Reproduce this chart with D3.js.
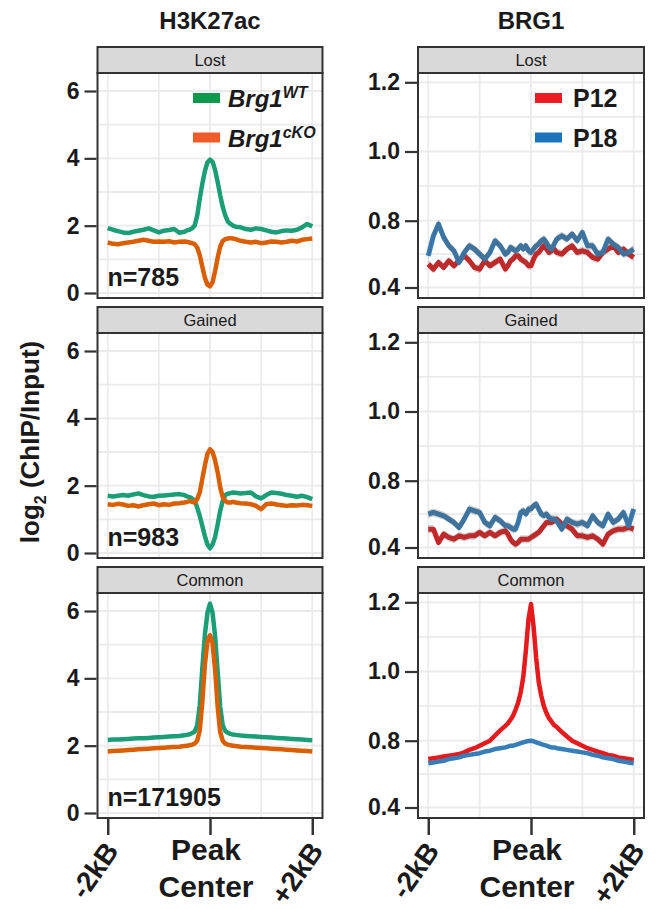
<!DOCTYPE html>
<html>
<head>
<meta charset="utf-8">
<script src="https://cdn.jsdelivr.net/npm/d3@7"></script>
<style>
body { margin: 0; background: #fff; }
text { font-family: "Liberation Sans", Arial, Helvetica, sans-serif; fill: #1a1a1a; }
</style>
</head>
<body>
<div id="chart"></div>
<script>
// distance from peak center (bp); 100bp steps on the flanks, 50bp near the center
var positions = [-2000,-1900,-1800,-1700,-1600,-1500,-1400,-1300,-1200,-1100,-1000,-900,-800,-700,-600,-500,
	-450,-400,-350,-300,-250,-200,-150,-100,-50,0,50,100,150,200,250,300,350,400,450,
	500,600,700,800,900,1000,1100,1200,1300,1400,1500,1600,1700,1800,1900,2000];

var facets = ["Lost", "Gained", "Common"];
var peakCounts = ["n=785", "n=983", "n=171905"];

// H3K27ac, log2(ChIP/Input)
var h3LostWT = [1.93,1.88,1.84,1.80,1.78,1.82,1.85,1.88,1.92,1.86,1.80,1.85,1.87,1.90,1.79,1.82,
	1.86,1.88,1.92,2.00,2.30,2.80,3.25,3.62,3.88,3.96,3.90,3.65,3.30,2.90,2.55,2.30,2.12,2.05,2.00,
	1.97,1.95,1.90,1.88,1.92,1.90,1.86,1.82,1.80,1.84,1.86,1.85,1.88,1.95,2.05,1.98];
var h3LostKO = [1.50,1.46,1.45,1.48,1.50,1.52,1.55,1.58,1.55,1.52,1.53,1.52,1.54,1.50,1.52,1.53,
	1.52,1.50,1.48,1.45,1.35,1.12,0.78,0.45,0.25,0.20,0.32,0.65,1.05,1.38,1.55,1.60,1.62,1.63,1.62,
	1.60,1.55,1.52,1.50,1.52,1.48,1.50,1.53,1.52,1.50,1.52,1.55,1.53,1.58,1.60,1.62];
var h3GainedWT = [1.70,1.68,1.70,1.72,1.70,1.74,1.77,1.72,1.68,1.67,1.70,1.71,1.72,1.74,1.75,1.72,
	1.68,1.66,1.62,1.55,1.35,1.10,0.80,0.50,0.25,0.14,0.25,0.48,0.85,1.25,1.55,1.72,1.76,1.78,1.80,
	1.79,1.77,1.78,1.80,1.68,1.62,1.72,1.80,1.78,1.76,1.72,1.70,1.67,1.70,1.66,1.60];
var h3GainedKO = [1.45,1.43,1.46,1.44,1.40,1.42,1.38,1.42,1.45,1.47,1.42,1.45,1.43,1.47,1.48,1.50,
	1.52,1.54,1.52,1.50,1.60,1.80,2.20,2.60,2.95,3.08,3.00,2.75,2.40,1.95,1.65,1.55,1.50,1.50,1.52,
	1.50,1.48,1.47,1.45,1.40,1.30,1.45,1.47,1.44,1.42,1.40,1.42,1.41,1.43,1.42,1.40];
var h3CommonWT = [2.17,2.18,2.18,2.19,2.20,2.21,2.22,2.22,2.23,2.24,2.25,2.26,2.27,2.28,2.29,2.31,
	2.32,2.34,2.37,2.42,2.60,3.20,4.30,5.30,5.95,6.22,5.95,5.25,4.20,3.15,2.60,2.43,2.38,2.35,2.33,
	2.32,2.30,2.29,2.28,2.27,2.26,2.25,2.24,2.23,2.22,2.21,2.20,2.19,2.18,2.17,2.16];
var h3CommonKO = [1.83,1.84,1.85,1.86,1.87,1.88,1.89,1.90,1.91,1.92,1.93,1.94,1.95,1.96,1.97,1.99,
	2.00,2.01,2.03,2.06,2.15,2.45,3.30,4.40,5.10,5.28,5.05,4.25,3.15,2.40,2.14,2.06,2.03,2.01,2.00,
	1.99,1.97,1.96,1.95,1.94,1.93,1.92,1.91,1.90,1.89,1.88,1.87,1.86,1.85,1.84,1.83];

// BRG1, log2(ChIP/Input)
var brgLostP12 = [0.54,0.51,0.55,0.52,0.56,0.53,0.56,0.59,0.56,0.52,0.51,0.56,0.53,0.55,0.57,0.51,
	0.53,0.56,0.57,0.59,0.59,0.57,0.56,0.55,0.53,0.53,0.57,0.60,0.61,0.63,0.65,0.63,0.61,0.62,0.63,
	0.61,0.60,0.63,0.65,0.61,0.62,0.61,0.58,0.57,0.61,0.63,0.65,0.61,0.63,0.60,0.58];
var brgLostP18 = [0.59,0.71,0.78,0.70,0.65,0.62,0.55,0.61,0.65,0.63,0.60,0.57,0.61,0.68,0.65,0.60,
	0.61,0.64,0.63,0.62,0.63,0.65,0.63,0.65,0.62,0.61,0.63,0.65,0.66,0.68,0.69,0.67,0.64,0.63,0.66,
	0.69,0.71,0.69,0.72,0.68,0.73,0.65,0.65,0.60,0.61,0.69,0.66,0.64,0.60,0.61,0.63];
var brgGainedP12 = [0.51,0.51,0.43,0.48,0.46,0.45,0.47,0.46,0.47,0.47,0.49,0.47,0.49,0.47,0.49,0.50,
	0.48,0.45,0.43,0.42,0.43,0.45,0.45,0.45,0.45,0.46,0.47,0.48,0.49,0.51,0.53,0.55,0.55,0.55,0.56,
	0.57,0.54,0.53,0.51,0.47,0.47,0.46,0.47,0.45,0.42,0.48,0.50,0.51,0.51,0.52,0.51];
var brgGainedP18 = [0.60,0.61,0.60,0.59,0.57,0.55,0.52,0.57,0.63,0.62,0.61,0.55,0.53,0.58,0.56,0.53,
	0.53,0.52,0.51,0.51,0.55,0.61,0.62,0.60,0.63,0.63,0.65,0.66,0.63,0.60,0.59,0.60,0.58,0.57,0.57,
	0.56,0.51,0.57,0.55,0.54,0.55,0.53,0.59,0.55,0.53,0.60,0.55,0.57,0.61,0.53,0.63];
var brgCommonP12 = [0.690,0.695,0.700,0.705,0.710,0.715,0.720,0.730,0.745,0.755,0.770,0.785,0.800,0.815,0.830,0.843,
	0.850,0.860,0.872,0.890,0.910,0.940,0.985,1.060,1.150,1.195,1.130,1.040,0.970,0.930,0.900,0.880,0.865,0.855,0.845,
	0.840,0.825,0.812,0.800,0.785,0.770,0.755,0.745,0.735,0.725,0.715,0.710,0.700,0.695,0.690,0.685];
var brgCommonP18 = [0.665,0.670,0.675,0.680,0.690,0.695,0.700,0.710,0.715,0.720,0.725,0.735,0.740,0.750,0.755,0.760,
	0.765,0.770,0.770,0.775,0.780,0.785,0.790,0.795,0.798,0.800,0.797,0.790,0.785,0.780,0.775,0.770,0.765,0.760,0.760,
	0.755,0.750,0.745,0.740,0.735,0.730,0.725,0.715,0.710,0.700,0.695,0.690,0.680,0.675,0.670,0.665];

// axis ticks
var h3Ticks = [0, 2, 4, 6];
var h3Minor = [1, 3, 5];
var brgTicks = [0.4, 0.8, 1.0, 1.2];
var brgMinor = [0.6, 0.9, 1.1];
var xTicks = [-2000, 0, 2000];
var xMinor = [-1000, 1000];
var xTickLabels = ["-2kB", "Peak\nCenter", "+2kB"];

var h3Series = [[h3LostWT, h3LostKO], [h3GainedWT, h3GainedKO], [h3CommonWT, h3CommonKO]];
var brgSeries = [[brgLostP12, brgLostP18], [brgGainedP12, brgGainedP18], [brgCommonP12, brgCommonP18]];

var h3Colors = ["#1b9e77", "#d95f02"];
var h3KeyColors = ["#0b9a4c", "#f15a29"];
var brgColors = ["#e41a1c", "#377eb8"];
var brgKeyColors = ["#ed1c24", "#1c75bc"];

var svg = d3.select("#chart")
	.append("svg")
	.attr("width", 664)
	.attr("height", 909);

var stripTop = [47, 307, 567];
var stripH = 26;
var panelH = 225;

function drawPanel(col, row) {
	var left = col == 0;
	var x0 = left ? 97.5 : 418, x1 = left ? 322.5 : 644;
	var top = stripTop[row] + stripH;
	var bottom = top + panelH;
	var g = svg.append("g");

	var x = d3.scaleLinear().domain([-2200, 2200]).range([x0, x1]);
	var y;
	if (left) y = d3.scaleLinear().domain([0, 6]).range([top + 220, top + 18]);
	// the BRG1 axis is spaced unevenly (0.4 sits one step below 0.8)
	else y = d3.scaleLinear().domain([0.4, 0.8, 1.2]).range([top + 214.5, top + 147.7, top + 9.3]);

	var ticks = left ? h3Ticks : brgTicks;
	var minor = left ? h3Minor : brgMinor;

	// grid
	g.selectAll(".hgrid")
		.data(ticks.concat(minor))
		.enter().append("line")
		.attr("x1", x0).attr("x2", x1)
		.attr("y1", function(d) { return y(d); })
		.attr("y2", function(d) { return y(d); })
		.style("stroke", "#ebebeb")
		.style("stroke-width", 1.8);
	g.selectAll(".vgrid")
		.data(xTicks.concat(xMinor))
		.enter().append("line")
		.attr("y1", top).attr("y2", bottom)
		.attr("x1", function(d) { return x(d); })
		.attr("x2", function(d) { return x(d); })
		.style("stroke", "#ebebeb")
		.style("stroke-width", 1.8);

	var line = d3.line()
		.x(function(d, i) { return x(positions[i]); })
		.y(function(d) { return y(d); });

	var series = left ? h3Series[row] : brgSeries[row];
	var colors = left ? h3Colors : brgColors;
	var noisy = !left && row < 2;

	series.forEach(function(s, k) {
		g.append("path")
			.attr("d", line(s))
			.style("fill", "none")
			.style("stroke", colors[k])
			.style("stroke-width", noisy ? 5 : 4.5)
			.style("stroke-linejoin", "round");
		// standard error band over the BRG1 profiles
		if (noisy) {
			var band = d3.area()
				.x(function(d, i) { return x(positions[i]); })
				.y0(function(d) { return y(d - 0.024); })
				.y1(function(d) { return y(d + 0.024); });
			g.append("path")
				.attr("d", band(s))
				.style("fill", "#555")
				.style("opacity", 0.28);
		}
	});

	// border
	g.append("rect")
		.attr("x", x0).attr("y", top)
		.attr("width", x1 - x0).attr("height", panelH)
		.style("fill", "none")
		.style("stroke", "#333")
		.style("stroke-width", 2);

	// strip
	g.append("rect")
		.attr("x", x0).attr("y", stripTop[row])
		.attr("width", x1 - x0).attr("height", stripH)
		.style("fill", "#d9d9d9")
		.style("stroke", "#333")
		.style("stroke-width", 2);
	g.append("text")
		.text(facets[row])
		.attr("x", (x0 + x1) / 2)
		.attr("y", stripTop[row] + 19)
		.attr("text-anchor", "middle")
		.style("font-size", "16.5px");

	// y axis
	var yAxis = d3.axisLeft(y)
		.tickValues(ticks)
		.tickSize(12)
		.tickPadding(5)
		.tickFormat(left ? d3.format("d") : d3.format(".1f"));
	var ya = g.append("g")
		.attr("transform", "translate(" + (x0 - 1) + ",0)")
		.call(yAxis);
	ya.select(".domain").remove();
	ya.selectAll("line").style("stroke", "#333").style("stroke-width", 2.2);
	ya.selectAll("text")
		.style("font-size", "23px")
		.style("font-weight", "bold")
		.style("fill", "#1a1a1a");

	if (left) {
		g.append("text")
			.text(peakCounts[row])
			.attr("x", x0 + 10)
			.attr("y", bottom - 12)
			.style("font-size", "25px")
			.style("font-weight", "bold");
	}

	// x axis on the bottom row only
	if (row == 2) {
		var xa = g.append("g")
			.attr("transform", "translate(0," + (bottom + 1) + ")")
			.call(d3.axisBottom(x).tickValues(xTicks).tickSize(16).tickFormat(""));
		xa.select(".domain").remove();
		xa.selectAll("line").style("stroke", "#333").style("stroke-width", 2.5);

		xTicks.forEach(function(t, i) {
			var lab = xTickLabels[i];
			if (lab.indexOf("\n") >= 0) {
				var parts = lab.split("\n");
				parts.forEach(function(p, j) {
					g.append("text")
						.text(p)
						.attr("x", x(t) - 4)
						.attr("y", bottom + 42 + j * 37)
						.attr("text-anchor", "middle")
						.style("font-size", "30px")
						.style("font-weight", "bold");
				});
			} else {
				g.append("text")
					.text(lab)
					.attr("text-anchor", "end")
					.attr("transform", "translate(" + (x(t) + 12) + "," + (bottom + 33) + ") rotate(-55)")
					.style("font-size", "28px")
					.style("font-weight", "bold");
			}
		});
	}
}

for (var r = 0; r < 3; r++) {
	drawPanel(0, r);
	drawPanel(1, r);
}

// column titles
svg.append("text").text("H3K27ac")
	.attr("x", 210).attr("y", 29)
	.attr("text-anchor", "middle")
	.style("font-size", "24px").style("font-weight", "bold");
svg.append("text").text("BRG1")
	.attr("x", 531).attr("y", 29)
	.attr("text-anchor", "middle")
	.style("font-size", "24px").style("font-weight", "bold");

// y axis title
var ylab = svg.append("text")
	.attr("transform", "translate(39,442) rotate(-90)")
	.attr("text-anchor", "middle")
	.style("font-size", "26px")
	.style("font-weight", "bold");
ylab.append("tspan").text("log");
ylab.append("tspan").text("2").attr("dy", 7).style("font-size", "16px");
ylab.append("tspan").text(" (ChIP/Input)").attr("dy", -7);

// legends
var h3Names = [["Brg1", "WT"], ["Brg1", "cKO"]];
var brgNames = ["P12", "P18"];
var keyY = [98, 137.5];

keyY.forEach(function(ky, i) {
	svg.append("rect")
		.attr("x", 193).attr("y", ky - 5)
		.attr("width", 27).attr("height", 10)
		.style("fill", h3KeyColors[i]);
	var t = svg.append("text")
		.attr("x", 228).attr("y", ky + 9)
		.style("font-size", "24px")
		.style("font-weight", "bold")
		.style("font-style", "italic");
	t.append("tspan").text(h3Names[i][0]);
	t.append("tspan").text(h3Names[i][1]).attr("dy", -9).style("font-size", "16px");

	svg.append("rect")
		.attr("x", 535).attr("y", ky - 5)
		.attr("width", 27).attr("height", 10)
		.style("fill", brgKeyColors[i]);
	svg.append("text")
		.text(brgNames[i])
		.attr("x", 573).attr("y", ky + 9)
		.style("font-size", "25px")
		.style("font-weight", "bold");
});
</script>
</body>
</html>
